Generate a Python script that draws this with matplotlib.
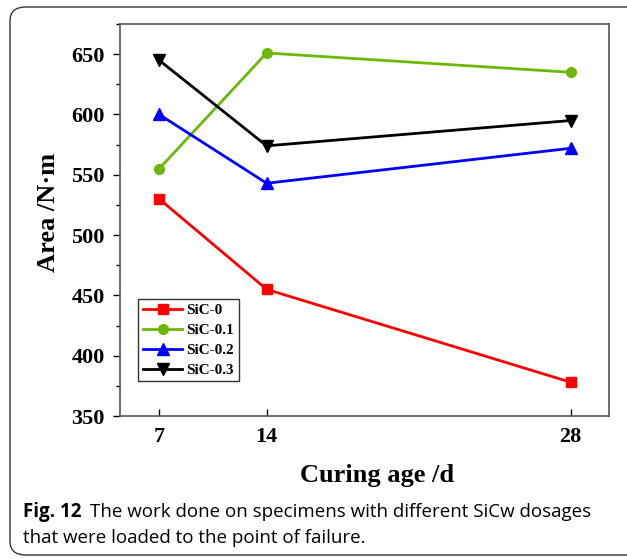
import numpy as np
import matplotlib.pyplot as plt
from matplotlib.patches import FancyBboxPatch
from matplotlib.ticker import MultipleLocator

# curing age (days) and work done for each SiCw dosage
ages = [7, 14, 28]
sic_0 = [530, 455, 378]
sic_01 = [555, 651, 635]
sic_02 = [600, 543, 572]
sic_03 = [645, 574, 595]
labels = ["SiC-0", "SiC-0.1", "SiC-0.2", "SiC-0.3"]

serif = ["Liberation Serif", "DejaVu Serif"]

fig = plt.figure(figsize=(6.27, 5.59), dpi=100)
ax = fig.add_axes([0.1914, 0.2558, 0.7799, 0.7012])

ax.plot(ages, sic_0, color="#ff0000", marker="s", lw=2, ms=7, label=labels[0])
ax.plot(ages, sic_01, color="#6cb80a", marker="o", lw=2, ms=7, label=labels[1])
ax.plot(ages, sic_02, color="#0000ff", marker="^", lw=2, ms=8, label=labels[2])
ax.plot(ages, sic_03, color="#000000", marker="v", lw=2, ms=8, label=labels[3])

# x axis spaced as age**1.5
ax.set_xscale("function", functions=(lambda x: np.sign(x) * np.abs(x) ** 1.5,
                                     lambda x: np.sign(x) * np.abs(x) ** (2 / 3)))
ax.set_xlim(3.37, 29.5)
ax.set_xticks(ages)
ax.set_xticklabels([str(a) for a in ages])
ax.set_ylim(350, 675)
ax.yaxis.set_major_locator(MultipleLocator(50))
ax.yaxis.set_minor_locator(MultipleLocator(25))
ax.xaxis.set_minor_locator(plt.NullLocator())

ax.tick_params(axis="x", direction="in", length=5, width=1, pad=8)
ax.tick_params(axis="y", which="major", direction="out", length=5, width=1, pad=6)
ax.tick_params(axis="y", which="minor", direction="out", length=3, width=1)
for lab in ax.get_xticklabels() + ax.get_yticklabels():
    lab.set_family(serif)
    lab.set_fontweight("bold")
    lab.set_fontsize(16)
for sp in ax.spines.values():
    sp.set_color("#555555")
    sp.set_linewidth(1.2)

ax.set_xlabel("Curing age /d", family=serif, fontweight="bold", fontsize=19)
ax.set_ylabel("Area /N·m", family=serif, fontweight="bold", fontsize=19)
ax.xaxis.set_label_coords(0.525, -0.122)
ax.yaxis.set_label_coords(-0.123, 0.52)

leg = ax.legend(loc="upper left", bbox_to_anchor=(0.037, 0.298), frameon=True,
                fancybox=False, edgecolor="black", handlelength=2.6,
                handletextpad=0.25, borderpad=0.3, labelspacing=0.4,
                borderaxespad=0, prop={"family": serif, "weight": "bold", "size": 11})
leg.get_frame().set_linewidth(1)

# rounded frame around the figure and caption
box = FancyBboxPatch((10 / 627, 4 / 559), 640 / 627, 548 / 559,
                     boxstyle="round,pad=0,rounding_size=0.025",
                     transform=fig.transFigure, fill=False,
                     edgecolor="#333333", lw=1, clip_on=False)
fig.patches.append(box)

cap = ["Open Sans", "DejaVu Sans"]
t = fig.text(23 / 627, 1 - 512 / 559, "Fig. 12", family=cap, fontweight="bold",
             fontsize=13.5, va="center")
fig.canvas.draw()
x1 = fig.transFigure.inverted().transform(
    (t.get_window_extent().x1 + 9, 0))[0]
fig.text(x1, 1 - 512 / 559, "The work done on specimens with different SiCw dosages",
         family=cap, fontsize=13.5, va="center")
fig.text(23 / 627, 1 - 538 / 559, "that were loaded to the point of failure.",
         family=cap, fontsize=13.5, va="center")

fig.savefig("out.png", dpi=100)
